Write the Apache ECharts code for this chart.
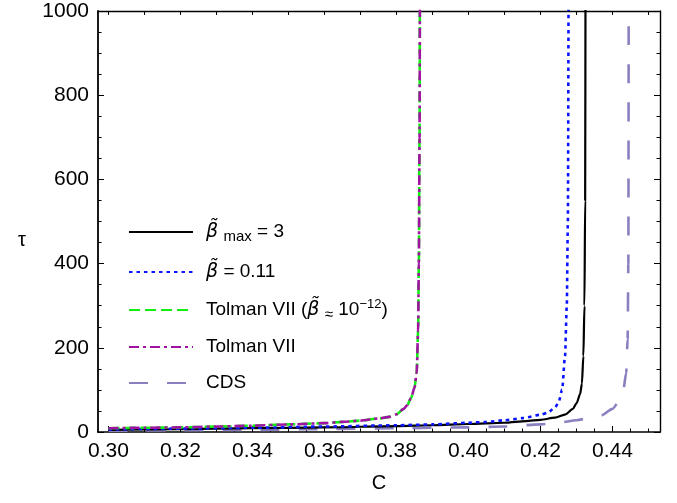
<!DOCTYPE html>
<html>
<head>
<meta charset="utf-8">
<script src="https://cdn.jsdelivr.net/npm/echarts@6/dist/echarts.min.js"></script>
<style>
  html, body { margin: 0; padding: 0; background: #fff; }
  #chart { width: 677px; height: 503px; }
</style>
</head>
<body>
<div id="chart"></div>
<script>
// Relaxation time tau versus compactness C for several models.

// beta~_max = 3
const cBetaMax   = [0.300, 0.320, 0.340, 0.360, 0.380, 0.390, 0.400, 0.410, 0.416, 0.420, 0.424, 0.427, 0.429, 0.430, 0.431, 0.4315, 0.4319, 0.4322, 0.4324, 0.4325];
const tauBetaMax = [5,     7,     9,     11,    14,    16,    19,    22,    26,    29,    34,    42,    55,    68,    90,    115,    180,    300,    550,    1100];

// beta~ = 0.11
const cBeta011   = [0.300, 0.320, 0.340, 0.360, 0.380, 0.390, 0.400, 0.405, 0.410, 0.415, 0.420, 0.422, 0.424, 0.425, 0.426, 0.4268, 0.4273, 0.4276, 0.4278];
const tauBeta011 = [6,     8,     10,    13,    16,    18,    22,    24,    28,    33,    41,    46,    58,    70,    100,   180,    300,    500,    1100];

// Tolman VII (both the tiny-beta~ run and the plain model)
const cTolman    = [0.300, 0.310, 0.320, 0.330, 0.340, 0.350, 0.360, 0.365, 0.370, 0.375, 0.378, 0.380, 0.382, 0.383, 0.384, 0.3850, 0.3856, 0.3860, 0.3862, 0.3864, 0.3865];
const tauTolman  = [9,     10,    11,    13,    15,    18,    21,    24,    27,    32,    36,    42,    55,    64,    80,    105,    140,    240,    400,    700,    1100];

// CDS
const cCDS       = [0.300, 0.320, 0.340, 0.360, 0.380, 0.400, 0.410, 0.420, 0.425, 0.430, 0.434, 0.437, 0.440, 0.442, 0.443, 0.4438, 0.4442, 0.4444, 0.4445];
const tauCDS     = [3,     4,     5,     7,     9,     11,    13,    18,    22,    28,    34,    40,    55,    75,    100,   140,    220,    400,    1100];

// Axis ticks
const xMajorTicks = [0.30, 0.32, 0.34, 0.36, 0.38, 0.40, 0.42, 0.44];
const xMinorTicks = [0.300, 0.305, 0.310, 0.315, 0.320, 0.325, 0.330, 0.335, 0.340, 0.345, 0.350, 0.355, 0.360, 0.365, 0.370, 0.375, 0.380, 0.385, 0.390, 0.395, 0.400, 0.405, 0.410, 0.415, 0.420, 0.425, 0.430, 0.435, 0.440, 0.445, 0.450];
const xTopTicks   = [0.30, 0.31, 0.32, 0.33, 0.34, 0.35, 0.36, 0.37, 0.38, 0.39, 0.40, 0.41, 0.42, 0.43, 0.44, 0.45];
const yTickStep = 200;

const names = ['betaMax', 'beta011', 'tolmanSmall', 'tolman', 'cds'];
const legendText = {
  betaMax:     '{b|β\u0303} {s|max} = 3',
  beta011:     '{b|β\u0303} = 0.11',
  tolmanSmall: 'Tolman VII ({b|β\u0303} {s|≈} 10{p|−12})',
  tolman:      'Tolman VII',
  cds:         'CDS'
};

const zip = (xs, ys) => xs.map((x, i) => [x, ys[i]]);

const FONT = 'Liberation Sans, Arial, sans-serif';
const X_MIN = 0.29708, X_MAX = 0.45319;

const chart = echarts.init(document.getElementById('chart'), null, { renderer: 'canvas' });

function lineSeries(name, data, color, width, type, z) {
  return {
    name, type: 'line', data, symbol: 'none', showSymbol: false,
    smooth: 0.25, smoothMonotone: 'x', z,
    xAxisIndex: 0, yAxisIndex: 0,
    lineStyle: { color, width, type, cap: 'butt' },
    itemStyle: { color },
    emphasis: { disabled: true },
    animation: false
  };
}

const legendTops = [220, 260, 298, 335, 371];
const rich = {
  b: { fontFamily: 'DejaVu Sans', fontStyle: 'italic', fontSize: 19, lineHeight: 24, color: '#000' },
  s: { fontFamily: FONT, fontSize: 15, lineHeight: 24, verticalAlign: 'bottom', color: '#000', padding: [4, 0, 0, 0] },
  p: { fontFamily: FONT, fontSize: 13, lineHeight: 24, verticalAlign: 'top', color: '#000' }
};

const option = {
  animation: false,
  backgroundColor: '#fff',
  grid: { left: 98, right: 17, top: 11, bottom: 71, containLabel: false },
  legend: names.map((n, i) => ({
    data: [n],
    orient: 'vertical',
    left: 128, top: legendTops[i],
    padding: 0,
    itemWidth: 64, itemHeight: 14,
    selectedMode: false,
    itemStyle: { color: 'transparent', borderColor: 'transparent', borderWidth: 0, opacity: 0 },
    formatter: (name) => legendText[name],
    textStyle: { fontFamily: FONT, fontSize: 19, lineHeight: 24, color: '#000', padding: [0, 0, 0, 8], rich }
  })),
  xAxis: [
    {
      type: 'value', min: X_MIN, max: X_MAX, position: 'bottom',
      name: 'C', nameLocation: 'middle', nameGap: 41,
      nameTextStyle: { fontFamily: FONT, fontSize: 20, color: '#000' },
      axisLine: { show: true, onZero: false, lineStyle: { color: '#000', width: 1.6 } },
      axisTick: { show: true, inside: true, length: 6, customValues: xMajorTicks, lineStyle: { color: '#000', width: 1 } },
      axisLabel: { show: true, customValues: xMajorTicks, margin: 9, fontFamily: FONT, fontSize: 21, color: '#000',
                   formatter: (v) => v.toFixed(2) },
      splitLine: { show: false }
    },
    {
      type: 'value', min: X_MIN, max: X_MAX, position: 'bottom',
      axisLine: { show: false, onZero: false },
      axisTick: { show: true, inside: true, length: 3.5, customValues: xMinorTicks, lineStyle: { color: '#000', width: 1 } },
      axisLabel: { show: false },
      splitLine: { show: false }
    },
    {
      type: 'value', min: X_MIN, max: X_MAX, position: 'top',
      axisLine: { show: true, onZero: false, lineStyle: { color: '#000', width: 1.4 } },
      axisTick: { show: true, inside: true, length: 4, customValues: xTopTicks, lineStyle: { color: '#000', width: 1 } },
      axisLabel: { show: false },
      splitLine: { show: false }
    }
  ],
  yAxis: [
    {
      type: 'value', min: 0, max: 1000, interval: yTickStep, position: 'left',
      name: 'τ', nameLocation: 'middle', nameGap: 72, nameRotate: 0,
      nameTextStyle: { fontFamily: FONT, fontSize: 20, color: '#000', verticalAlign: 'top', lineHeight: 38 },
      axisLine: { show: true, onZero: false, lineStyle: { color: '#000', width: 1.8 } },
      axisTick: { show: true, inside: true, length: 6, lineStyle: { color: '#000', width: 1 } },
      minorTick: { show: true, splitNumber: 4, length: 3.5, lineStyle: { color: '#000', width: 1 } },
      axisLabel: { show: true, margin: 9, fontFamily: FONT, fontSize: 21, color: '#000', formatter: (v) => String(v) },
      splitLine: { show: false }
    },
    {
      type: 'value', min: 0, max: 1000, interval: yTickStep, position: 'right',
      axisLine: { show: true, onZero: false, lineStyle: { color: '#000', width: 1.4 } },
      axisTick: { show: true, inside: true, length: 6, lineStyle: { color: '#000', width: 1 } },
      minorTick: { show: true, splitNumber: 4, length: 3.5, lineStyle: { color: '#000', width: 1 } },
      axisLabel: { show: false },
      splitLine: { show: false }
    }
  ],
  series: [
    lineSeries('betaMax', zip(cBetaMax, tauBetaMax), '#000000', 2.2, 'solid', 3),
    lineSeries('beta011', zip(cBeta011, tauBeta011), '#0a14ff', 2.6, [3.5, 4], 4),
    lineSeries('tolmanSmall', zip(cTolman, tauTolman), '#12ee12', 2.6, [11, 5], 5),
    lineSeries('tolman', zip(cTolman, tauTolman), '#a212a2', 2.6, [10, 4, 3, 4], 6),
    lineSeries('cds', zip(cCDS, tauCDS), '#8a80c0', 2.6, [19, 19], 2)
  ]
};

chart.setOption(option);
</script>
</body>
</html>
